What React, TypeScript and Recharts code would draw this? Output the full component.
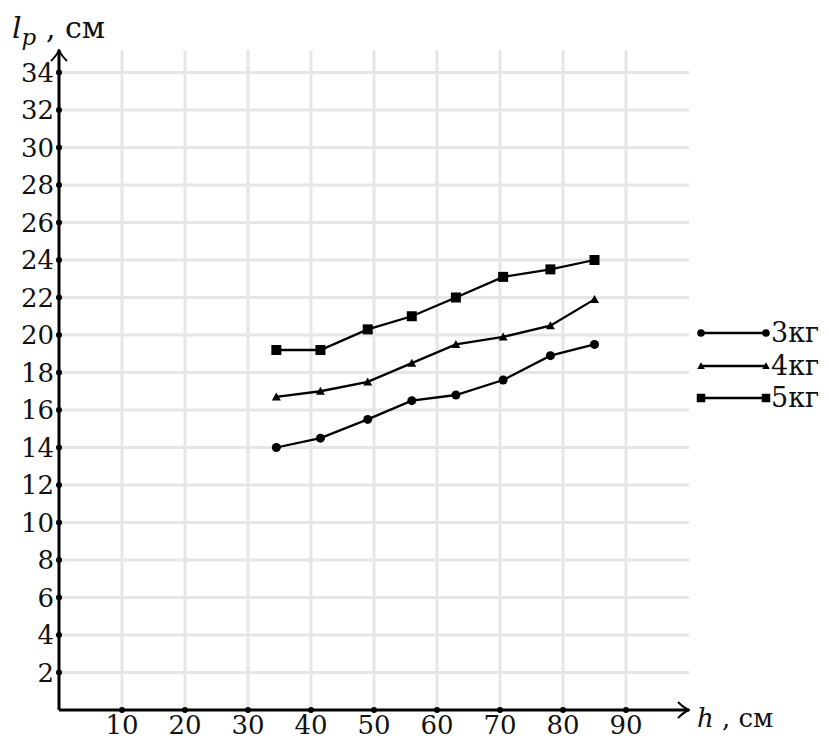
import { Line, LineChart, ReferenceLine, XAxis, YAxis } from "recharts";

const heights = [34.5, 41.5, 49, 56, 63, 70.5, 78, 85];
const load3 = [14, 14.5, 15.5, 16.5, 16.8, 17.6, 18.9, 19.5];
const load4 = [16.7, 17, 17.5, 18.5, 19.5, 19.9, 20.5, 21.9];
const load5 = [19.2, 19.2, 20.3, 21, 22, 23.1, 23.5, 24];
const seriesNames = ["3кг", "4кг", "5кг"];
const xTicks = [10, 20, 30, 40, 50, 60, 70, 80, 90];
const yTicks = [2, 4, 6, 8, 10, 12, 14, 16, 18, 20, 22, 24, 26, 28, 30, 32, 34];

const data = heights.map((h, i) => ({ h, m3: load3[i], m4: load4[i], m5: load5[i] }));

const FONT = "'DejaVu Serif', 'Liberation Serif', serif";
const GRID = "#e6e6e6";

type Shape = "circle" | "triangle" | "square";
const shapes: Shape[] = ["circle", "triangle", "square"];

function Marker({ cx, cy, shape, small }: { cx: number; cy: number; shape: Shape; small?: boolean }) {
  if (cx == null || cy == null) return null;
  const k = small ? 0.85 : 1;
  if (shape === "circle") return <circle cx={cx} cy={cy} r={4.5 * k} fill="#000" />;
  if (shape === "square") {
    const s = 5 * k;
    return <rect x={cx - s} y={cy - s} width={s * 2} height={s * 2} fill="#000" />;
  }
  const t = 4.5 * k;
  return <polygon points={`${cx},${cy - t} ${cx + t},${cy + t * 0.8} ${cx - t},${cy + t * 0.8}`} fill="#000" />;
}

function XTick(props: any) {
  const { x, y, payload } = props;
  return (
    <g>
      <circle cx={x} cy={y} r={3} fill="#000" />
      <text x={x} y={y + 24} textAnchor="middle" fontSize={26} fontFamily={FONT} fill="#111">
        {payload.value}
      </text>
    </g>
  );
}

function YTick(props: any) {
  const { x, y, payload } = props;
  return (
    <g>
      <circle cx={x} cy={y} r={3} fill="#000" />
      <text x={x - 5} y={y + 9} textAnchor="end" fontSize={26} fontFamily={FONT} fill="#111">
        {payload.value}
      </text>
    </g>
  );
}

function LegendBox() {
  return (
    <div style={{ position: "absolute", left: 695, top: 317, fontFamily: FONT, fontSize: 27, color: "#111" }}>
      {seriesNames.map((name, i) => (
        <div key={name} style={{ display: "flex", alignItems: "center", height: 32.5 }}>
          <svg width={76} height={20} style={{ display: "block" }}>
            <line x1={6} y1={10} x2={71} y2={10} stroke="#000" strokeWidth={2.3} />
            <Marker cx={6} cy={10} shape={shapes[i]} small />
            <Marker cx={71} cy={10} shape={shapes[i]} small />
          </svg>
          <span style={{ lineHeight: "20px" }}>{name}</span>
        </div>
      ))}
    </div>
  );
}

export default function App() {
  return (
    <div style={{ position: "absolute", left: 0, top: 0, width: 829, height: 740, background: "#fff" }}>
      <LineChart
        width={829}
        height={740}
        data={data}
        margin={{ top: 50, right: 140, bottom: 0, left: 9 }}
        style={{ fontFamily: FONT }}
      >
        <defs>
          <marker
            id="axisArrow"
            viewBox="0 0 14 20"
            refX={13}
            refY={10}
            markerWidth={14}
            markerHeight={20}
            markerUnits="userSpaceOnUse"
            orient="auto-start-reverse"
          >
            <path d="M2,2 Q8,8 13,10 Q8,12 2,18" fill="none" stroke="#000" strokeWidth={2} />
          </marker>
        </defs>
        <XAxis
          dataKey="h"
          type="number"
          domain={[0, 100]}
          ticks={xTicks}
          height={30}
          tickSize={0}
          tickMargin={0}
          tickLine={false}
          axisLine={false}
          tick={<XTick />}
          interval={0}
        />
        <YAxis
          type="number"
          domain={[0, 35.2]}
          ticks={yTicks}
          width={50}
          tickSize={0}
          tickMargin={0}
          tickLine={false}
          axisLine={false}
          tick={<YTick />}
          interval={0}
        />
        {xTicks.map((t) => (
          <ReferenceLine key={`vx${t}`} x={t} stroke={GRID} strokeWidth={3} />
        ))}
        {yTicks.map((t) => (
          <ReferenceLine key={`hy${t}`} y={t} stroke={GRID} strokeWidth={3} />
        ))}
        <ReferenceLine
          y={0}
          stroke="#000"
          strokeWidth={3}
          markerEnd="url(#axisArrow)"
          segment={[{ x: 0, y: 0 }, { x: 100, y: 0 }]}
        />
        <ReferenceLine
          x={0}
          stroke="#000"
          strokeWidth={3}
          markerEnd="url(#axisArrow)"
          segment={[{ x: 0, y: 0 }, { x: 0, y: 35.2 }]}
        />
        {["m3", "m4", "m5"].map((key, i) => (
          <Line
            key={key}
            dataKey={key}
            name={seriesNames[i]}
            stroke="#000"
            strokeWidth={2.3}
            dot={(p: any) => <Marker key={`${key}${p.index}`} cx={p.cx} cy={p.cy} shape={shapes[i]} />}
            activeDot={false}
            isAnimationActive={false}
          />
        ))}
        <text x={12} y={38} fontSize={30} fontFamily={FONT} fill="#111">
          <tspan fontStyle="italic">l</tspan>
          <tspan fontStyle="italic" fontSize={23} dy={7}>p</tspan>
          <tspan dy={-7}> , см</tspan>
        </text>
        <text x={697} y={727} fontSize={26} fontFamily={FONT} fill="#111">
          <tspan fontStyle="italic">h</tspan>
          <tspan> , см</tspan>
        </text>
      </LineChart>
      <LegendBox />
    </div>
  );
}
